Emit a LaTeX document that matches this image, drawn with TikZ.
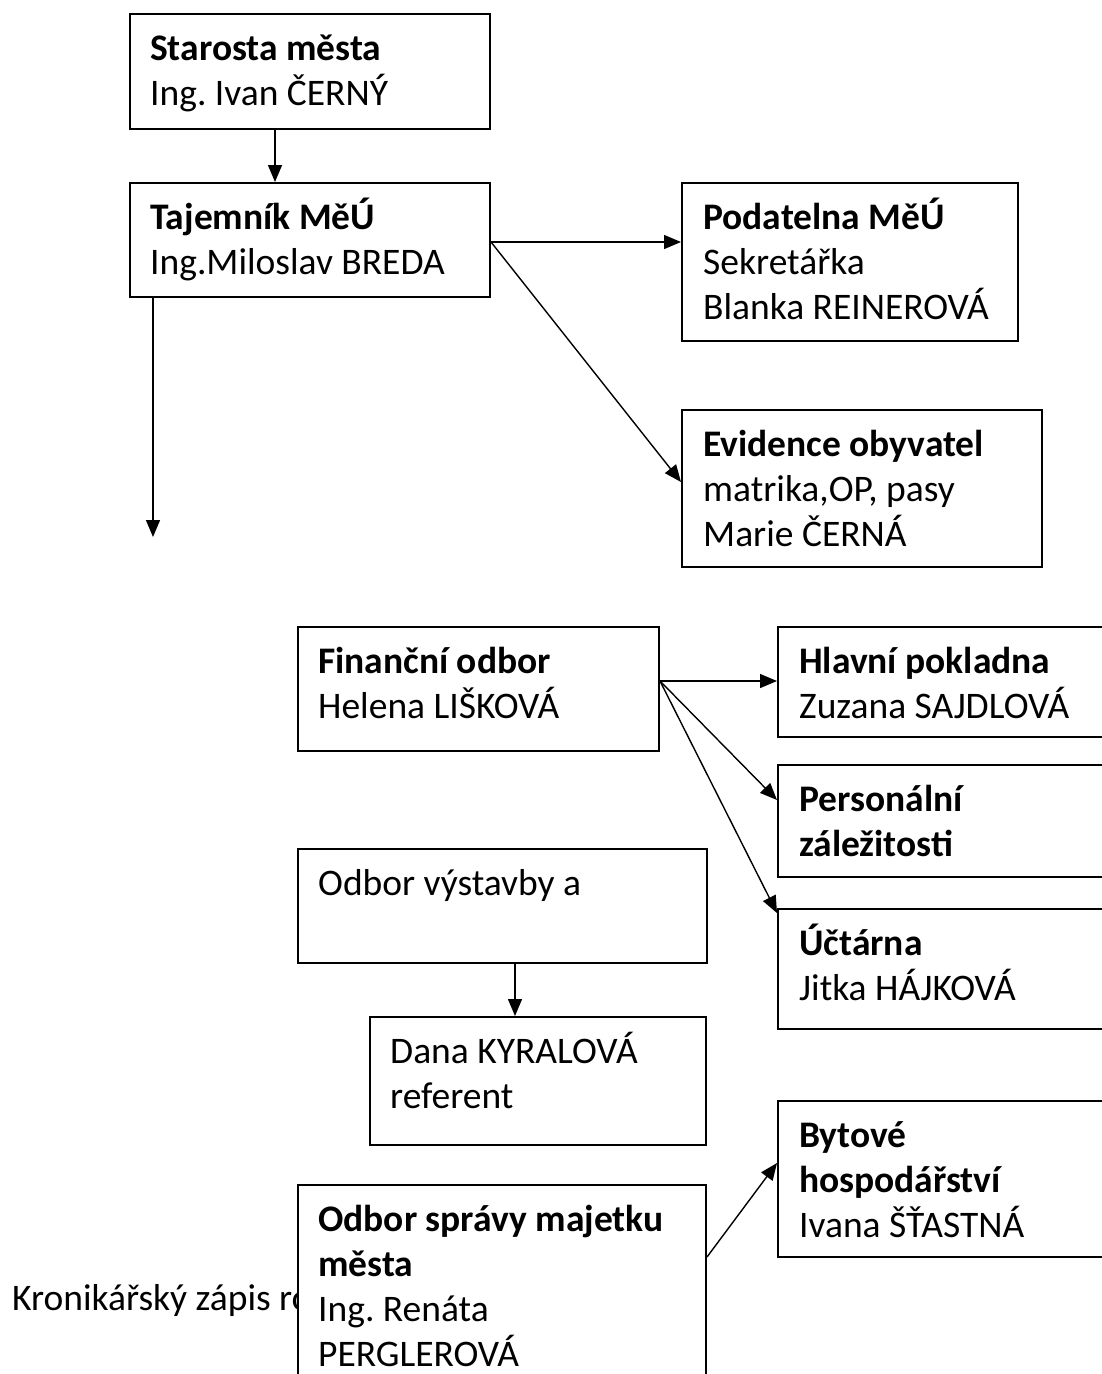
\documentclass[tikz,border=0pt]{standalone}
\usepackage{fontspec}
\setmainfont{Carlito}
\usetikzlibrary{arrows.meta}
\frenchspacing
\begin{document}
\begin{tikzpicture}[x=1pt,y=-1pt,
  orgbox/.style={draw=black, line width=2pt, fill=white, rectangle, inner sep=0pt, anchor=north west},
  txt/.style={anchor=base west, inner sep=0pt, font=\fontsize{37.5}{45}\selectfont},
  btxt/.style={txt, font=\fontsize{37.5}{45}\selectfont\bfseries},
  conn/.style={draw=black, line width=1.4pt, -{Triangle[length=17pt,width=14pt]}}
]
\useasboundingbox[fill=white] (0,0) rectangle (1102,1374);

% clipped running text at the bottom left
\begin{scope}
  \clip (0,1200) rectangle (297,1374);
  \node[txt] (kron) at (12,1310) {Kronikářský zápis ro};
\end{scope}

% boxes
\node[orgbox, minimum width=360pt, minimum height=115pt] (st) at (129,13) {};
\node[orgbox, minimum width=360pt, minimum height=114pt] (taj) at (129,182) {};
\node[orgbox, minimum width=336pt, minimum height=158pt] (pod) at (681,182) {};
\node[orgbox, minimum width=360pt, minimum height=157pt] (ev) at (681,409) {};
\node[orgbox, minimum width=361pt, minimum height=124pt] (fin) at (297,626) {};
\node[orgbox, minimum width=340pt, minimum height=110pt] (hl) at (777,626) {};
\node[orgbox, minimum width=340pt, minimum height=112pt] (per) at (777,764) {};
\node[orgbox, minimum width=340pt, minimum height=120pt] (uct) at (777,908) {};
\node[orgbox, minimum width=409pt, minimum height=114pt] (ov) at (297,848) {};
\node[orgbox, minimum width=336pt, minimum height=128pt] (dana) at (369,1016) {};
\node[orgbox, minimum width=340pt, minimum height=156pt] (byt) at (777,1100) {};
\node[orgbox, minimum width=408pt, minimum height=220pt] (os) at (297,1184) {};

% texts
\node[btxt] (st1) at (150,60) {Starosta města};
\node[txt] (st2) at (150,105) {Ing. Ivan ČERNÝ};
\node[btxt] (taj1) at (150,229) {Tajemník MěÚ};
\node[txt] (taj2) at (150,274) {Ing.Miloslav BREDA};
\node[btxt] (pod1) at (703,229) {Podatelna MěÚ};
\node[txt] (pod2) at (703,274) {Sekretářka};
\node[txt] (pod3) at (703,319) {Blanka REINEROVÁ};
\node[btxt] (ev1) at (703,456) {Evidence obyvatel};
\node[txt] (ev2) at (703,501) {matrika,OP, pasy};
\node[txt] (ev3) at (703,546) {Marie ČERNÁ};
\node[btxt] (fin1) at (318,673) {Finanční odbor};
\node[txt] (fin2) at (318,718) {Helena LIŠKOVÁ};
\node[btxt] (hl1) at (799,673) {Hlavní pokladna};
\node[txt] (hl2) at (799,718) {Zuzana SAJDLOVÁ};
\node[btxt] (per1) at (799,811) {Personální};
\node[btxt] (per2) at (799,856) {záležitosti};
\node[btxt] (uct1) at (799,955) {Účtárna};
\node[txt] (uct2) at (799,1000) {Jitka HÁJKOVÁ};
\node[txt] (ov1) at (318,895) {Odbor výstavby a};
\node[txt] (dana1) at (390,1063) {Dana KYRALOVÁ};
\node[txt] (dana2) at (390,1108) {referent};
\node[btxt] (byt1) at (799,1147) {Bytové};
\node[btxt] (byt2) at (799,1192) {hospodářství};
\node[txt] (byt3) at (799,1237) {Ivana ŠŤASTNÁ};
\node[btxt] (os1) at (318,1231) {Odbor správy majetku};
\node[btxt] (os2) at (318,1276) {města};
\node[txt] (os3) at (318,1321) {Ing. Renáta};
\node[txt] (os4) at (318,1366) {PERGLEROVÁ};

% connectors
\coordinate (tajout) at ([yshift=-60pt]taj.north east);
\coordinate (tajdown) at ([xshift=24pt]taj.south west);
\coordinate (tajend) at (153,537);
\coordinate (finout) at ([yshift=-55pt]fin.north east);
\coordinate (ovout) at ([xshift=12.5pt]ov.south);
\coordinate (osout) at ([yshift=-73pt]os.north east);

\draw[conn] ([xshift=-35pt]st.south) -- ([xshift=-35pt]taj.north);
\draw[conn] (tajout) -- (tajout -| pod.west);
\draw[conn] (tajout) -- ([yshift=-73pt]ev.north west);
\draw[conn] (tajdown) -- (tajend);
\draw[conn] (finout) -- (finout -| hl.west);
\draw[conn] (finout) -- ([yshift=-36pt]per.north west);
\draw[conn] (finout) -- ([yshift=-5pt]uct.north west);
\draw[conn] (ovout) -- (ovout |- dana.north);
\draw[conn] (osout) -- ([yshift=-63pt]byt.north west);
\end{tikzpicture}
\end{document}
